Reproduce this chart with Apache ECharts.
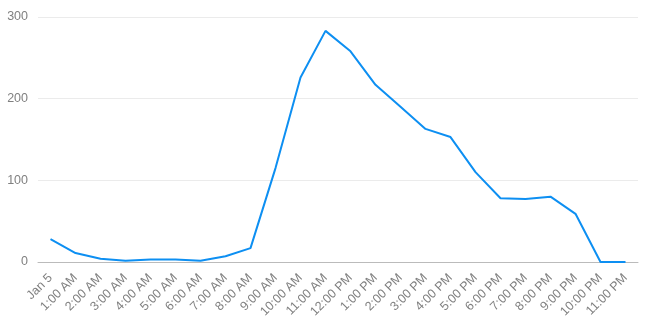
<!DOCTYPE html>
<html><head><meta charset="utf-8">
<script src="https://cdn.jsdelivr.net/npm/echarts@6/dist/echarts.min.js"></script>
<style>html,body{margin:0;padding:0;background:#fff}#c{width:645px;height:335px}</style>
</head><body><div id="c"></div>
<script>
var categories = ["Jan 5","1:00 AM","2:00 AM","3:00 AM","4:00 AM","5:00 AM","6:00 AM","7:00 AM","8:00 AM","9:00 AM","10:00 AM","11:00 AM","12:00 PM","1:00 PM","2:00 PM","3:00 PM","4:00 PM","5:00 PM","6:00 PM","7:00 PM","8:00 PM","9:00 PM","10:00 PM","11:00 PM"];
var values = [28,11,4,1.5,3,3,1.5,7,17,115,226,283,258,217,190,163,153,110,78,77,80,59,0,0];
var yTicks = {min:0, max:300, interval:100};
var chart = echarts.init(document.getElementById('c'), null, {renderer:'canvas'});
chart.setOption({
  animation:false,
  grid:{left:38,right:7,top:17,bottom:73,containLabel:false},
  xAxis:{type:'category',data:categories,boundaryGap:true,
    axisLine:{lineStyle:{color:'#bbbbbb'}},
    axisTick:{alignWithLabel:true,length:5,lineStyle:{color:'#bbbbbb'}},
    axisLabel:{rotate:45,color:'#808080',fontSize:12.5,fontFamily:'Liberation Sans',interval:0,margin:14}},
  yAxis:{type:'value',min:yTicks.min,max:yTicks.max,interval:yTicks.interval,
    axisLine:{show:false},axisTick:{show:false},
    splitLine:{lineStyle:{color:'#ebebeb'}},
    axisLabel:{color:'#808080',fontSize:12.5,fontFamily:'Liberation Sans',margin:10}},
  series:[{type:'line',data:values,symbol:'none',smooth:false,
    lineStyle:{color:'#0d8ff2',width:2}}]
});
</script></body></html>
